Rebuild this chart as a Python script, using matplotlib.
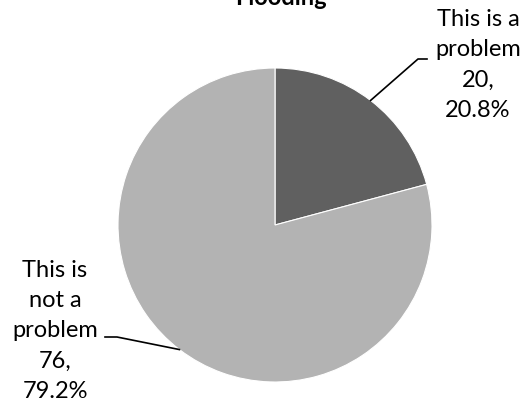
import matplotlib
matplotlib.use('Agg')
import matplotlib.pyplot as plt
import numpy as np

plt.rcParams['font.family'] = ['Lato', 'DejaVu Sans']

title = 'Flooding'
labels = ['This is a\nproblem', 'This is\nnot a\nproblem']
counts = [20, 76]
colors = ['#606060', '#b3b3b3']

fig = plt.figure(figsize=(5.29, 4.10), dpi=100)
ax = fig.add_axes([0, 0, 1, 1])

cx, cy, r = 275, 184, 157
wedges, _ = ax.pie(counts, colors=colors, startangle=90, counterclock=False,
                   center=(cx, cy), radius=r, frame=True,
                   wedgeprops=dict(edgecolor='white', linewidth=0.8))
ax.set_xlim(0, 529)
ax.set_ylim(0, 410)
ax.axis('off')

total = sum(counts)
# label positions (text centre) and leader elbows
txt_pos = [(478, 345), (55, 79)]
elbows = [((418, 350), (427, 350)), ((117, 72), (105, 72))]
for w, lab, n, tp, el in zip(wedges, labels, counts, txt_pos, elbows):
    mid = np.deg2rad((w.theta1 + w.theta2) / 2)
    px, py = cx + r * np.cos(mid), cy + r * np.sin(mid)
    ax.plot([px, el[0][0], el[1][0]], [py, el[0][1], el[1][1]],
            color='black', lw=1.2)
    s = '%s\n%d,\n%.1f%%' % (lab, n, n / total * 100)
    ax.text(tp[0], tp[1], s, ha='center', va='center', fontsize=17,
            linespacing=1.55)

ax.text(281, 405, title, ha='center', va='baseline', fontsize=17,
        fontweight='bold')

fig.savefig('out.png', dpi=100)
